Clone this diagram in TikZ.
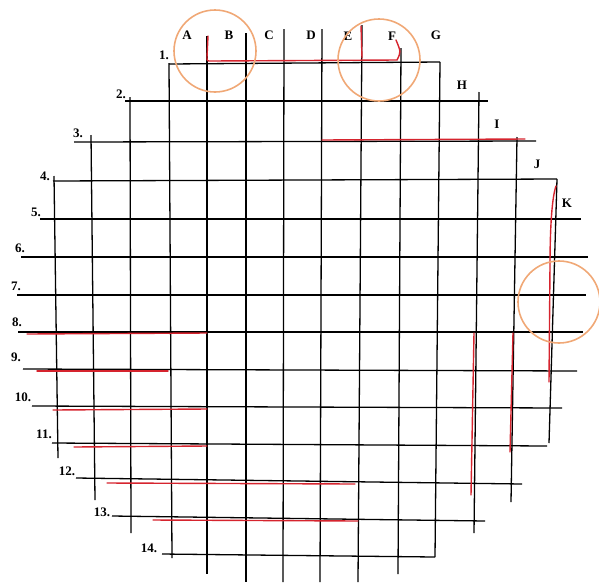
\documentclass[tikz,border=0pt]{standalone}
\usepackage{fontspec}
\setmainfont{Liberation Serif}
\usepackage{tikz}
\usetikzlibrary{positioning}
\usepackage{xcolor}
\definecolor{penred}{RGB}{214,36,46}
\definecolor{ringorange}{RGB}{240,168,118}

\begin{document}
\begin{tikzpicture}[x=1pt,y=-1pt,
  gridline/.style={line width=1.3pt,black},
  pen/.style={line width=1.4pt,penred,line cap=round},
  ring/.style={circle,draw=ringorange,line width=1.6pt,minimum size=82pt,inner sep=0pt},
  lbl/.style={font=\fontsize{13}{15}\selectfont\bfseries,inner sep=0pt}]
\useasboundingbox (0,0) rectangle (599,582);
% rows 1..14
\foreach \n/\xa/\ya/\xb/\yb in {1/169/64/440/62,2/125/101/488/101,3/74/142/536/141,4/53/181/557/179,
  5/40/219/581/219,6/21/257/588/257,7/17/295/586/295,8/18/332/583/332,9/23/369/577/371,
  10/32/406/562/408,11/52/443/547/446,12/76/478/522/484,13/112/516/485/521,14/162/554/435/557}
  \draw[gridline] (\xa,\ya) coordinate (r\n w) -- (\xb,\yb) coordinate (r\n e);
% columns
\foreach \n/\xa/\ya/\xb/\yb in {1/54/176/58/458,2/91/135/95/500,3/130/97/131/533,4/169/63/172/558,
  5/207/36/207/574,6/246/33/246/582,7/284/29/283/582,8/322/29/320/582,9/362/25/358/582,
  10/401/48/398/574,11/440/62/435/557,12/479/92/474/533,13/517/137/511/502,14/557/179/549/443}
  \draw[gridline] (\xa,\ya) coordinate (c\n n) -- (\xb,\yb) coordinate (c\n s);
% row numbers
\foreach \t/\x/\y in {1/164/55,2/121/94,3/78/133,4/45/176,5/36/212,6/20/248,7/16/286,8/17/322,
  9/16/357,10/23/397,11/44/434,12/67/471,13/102/512,14/149/548}
  \node[lbl] (num\t) at (\x,\y) {\t.};
% column letters
\foreach \t/\x/\y in {A/187/35,B/229/35,C/269/35,D/311/35,E/348/36,F/392/36,G/436/35,
  H/462/85,I/497/124,J/537/164,K/567/203}
  \node[lbl] (let\t) at (\x,\y) {\t};
% red marks
\draw[pen] (208,36) -- (207,57) .. controls (207,61) .. (211,61) -- (397,60)
  .. controls (401,52) .. (396,40);
\draw[pen] (361,26) -- (362,58);
\draw[pen] (322,140) -- (525,139);
\foreach \xa/\ya/\xb/\yb in {27/334/207/333,37/371/168/371,53/410/207/409,74/447/207/446,
  107/483/355/484,153/520/358/521}
  \draw[pen] (\xa,\ya) -- (\xb,\yb);
\draw[pen] (474,333) -- (471,495);
\draw[pen] (513,333) -- (510,452);
\draw[pen] (556,186) .. controls (551,200) and (550,240) .. (550,265) -- (549,382);
% circles
\node[ring] (ringAB) at (215,51) {};
\node[ring] (ringEF) at (379,60) {};
\node[ring] (ringK) at (559,302) {};
\end{tikzpicture}
\end{document}
